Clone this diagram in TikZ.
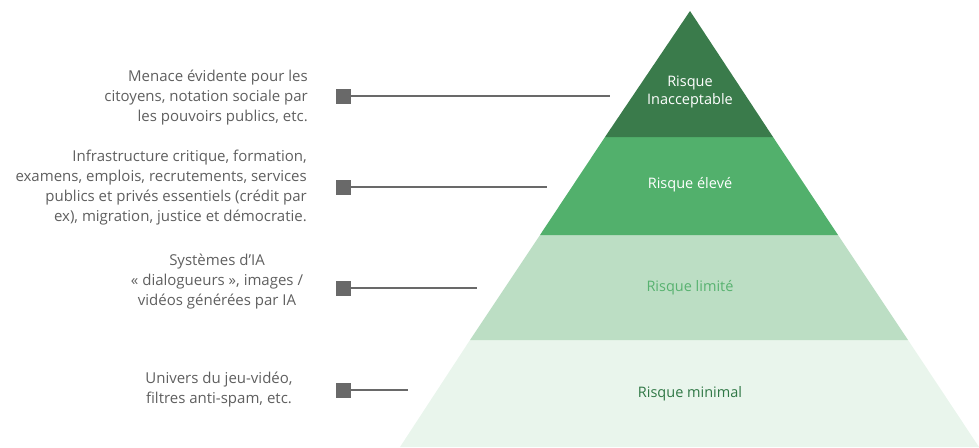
\documentclass[tikz,border=0pt]{standalone}
\usepackage{fontspec}
\setmainfont{Open Sans}
\usetikzlibrary{positioning}
\definecolor{inaccgreen}{RGB}{58,123,75}
\definecolor{highgreen}{RGB}{82,176,108}
\definecolor{limgreen}{RGB}{188,222,196}
\definecolor{mingreen}{RGB}{233,245,236}
\definecolor{limtext}{RGB}{88,178,112}
\definecolor{mintext}{RGB}{48,120,70}
\definecolor{descgray}{RGB}{95,95,95}
\definecolor{leadgray}{RGB}{105,105,105}
\tikzset{desc/.style={text=descgray, inner sep=0pt, font=\fontsize{15}{20}\selectfont},
descr/.style={desc, align=right, anchor=east},
descc/.style={desc, align=center},
marker/.style={rectangle, fill=leadgray, minimum size=15pt, inner sep=0pt},
lead/.style={draw=leadgray, line width=2.6pt},
level/.style={inner sep=0pt, align=center, font=\fontsize{14.5}{18}\selectfont},
band/.style={draw=none}}

\begin{document}
\begin{tikzpicture}[x=1pt,y=-1pt]
  \useasboundingbox (0,0) rectangle (979,447);
  % pyramid bands
  \fill [band,mingreen] (470,340) -- (908,340) -- (979,447) -- (400,447) -- cycle;
  \fill [band,limgreen] (540,235) -- (838,235) -- (908,340) -- (470,340) -- cycle;
  \fill [band,highgreen] (605,137) -- (773,137) -- (838,235) -- (540,235) -- cycle;
  \fill [band,inaccgreen] (690,11) -- (773,137) -- (605,137) -- cycle;
  \node (l1) [level,text=white] at (690,92) {Risque\\Inacceptable};
  \node (l2) [level,text=white] at (690,185) {Risque élevé};
  \node (l3) [level,text=limtext] at (690,288) {Risque limité};
  \node (l4) [level,text=mintext] at (690,394) {Risque minimal};
  % descriptions
  \node (t1) [descr] at (308,98) {Menace évidente pour les\\citoyens, notation sociale par\\les pouvoirs publics, etc.};
  \node (t2) [descr] at (307,188) {Infrastructure critique, formation,\\examens, emplois, recrutements, services\\publics et privés essentiels (crédit par\\ex), migration, justice et démocratie.};
  \node (t3) [descc] at (217,282) {Systèmes d’IA\\« dialogueurs », images /\\vidéos générées par IA};
  \node (t4) [descc] at (219,389.5) {Univers du jeu-vidéo,\\filtres anti-spam, etc.};
  % leaders
  \node (m1) [marker] at (343.5,96) {};
  \node (m2) [marker] at (343.5,187) {};
  \node (m3) [marker] at (343.5,288) {};
  \node (m4) [marker] at (343.5,390) {};
  \coordinate (e1) at (610,96);
  \coordinate (e2) at (547,187);
  \coordinate (e3) at (477,288);
  \coordinate (e4) at (408,390);
  \draw [lead] (m1.east) -- (e1);
  \draw [lead] (m2.east) -- (e2);
  \draw [lead] (m3.east) -- (e3);
  \draw [lead] (m4.east) -- (e4);
\end{tikzpicture}
\end{document}
